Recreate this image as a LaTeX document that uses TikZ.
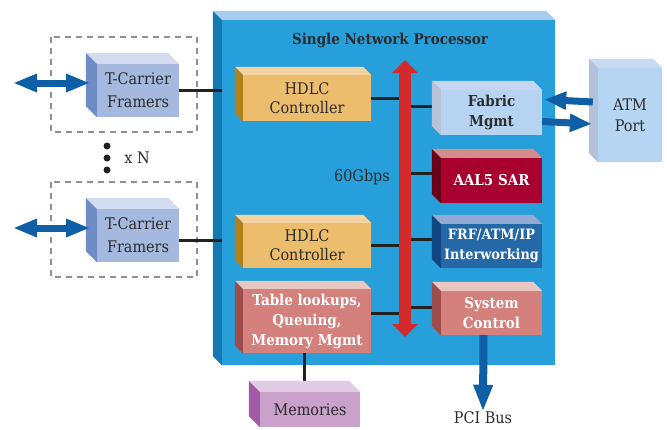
\documentclass[tikz,border=0pt]{standalone}
\usepackage{fontspec}
\setmainfont{DejaVu Serif Condensed}
\usetikzlibrary{arrows.meta}

\definecolor{npfront}{HTML}{279FDA}
\definecolor{nptop}{HTML}{A9CDEE}
\definecolor{npside}{HTML}{1479B0}
\definecolor{hdlcfront}{HTML}{EDBD6E}
\definecolor{hdlctop}{HTML}{F3D3A0}
\definecolor{hdlcside}{HTML}{B0801C}
\definecolor{rosefront}{HTML}{D4807C}
\definecolor{rosetop}{HTML}{E9C6C0}
\definecolor{roseside}{HTML}{9E4C4A}
\definecolor{fabfront}{HTML}{B6D4F2}
\definecolor{fabtop}{HTML}{C4D6F2}
\definecolor{fabside}{HTML}{B7C2D6}
\definecolor{sarfront}{HTML}{A8002F}
\definecolor{sartop}{HTML}{D48C8C}
\definecolor{sarside}{HTML}{6A0018}
\definecolor{frffront}{HTML}{2468A8}
\definecolor{frftop}{HTML}{93AAD2}
\definecolor{frfside}{HTML}{0D4680}
\definecolor{frmfront}{HTML}{A5B9DF}
\definecolor{frmtop}{HTML}{D3DCEE}
\definecolor{frmside}{HTML}{6E8CC6}
\definecolor{memfront}{HTML}{C9A1CB}
\definecolor{memtop}{HTML}{E2CCE5}
\definecolor{memside}{HTML}{A25AA6}
\definecolor{atmfront}{HTML}{B5D5F2}
\definecolor{atmtop}{HTML}{C8DAF2}
\definecolor{atmside}{HTML}{B3C1D9}
\definecolor{busred}{HTML}{D32A2C}
\definecolor{arrowblue}{HTML}{0E5FA6}
\definecolor{dashgray}{HTML}{8C9099}
\definecolor{txtdark}{HTML}{2B2B2B}
\definecolor{linkblack}{HTML}{222222}

% top and side faces of a box node: [depth]{node}{top colour}{side colour}
\newcommand{\faces}[4][9]{%
  \fill[#3] (#2.north west) -- ++(-#1,-#1) -- ([shift={(-#1,-#1)}]#2.north east) -- (#2.north east) -- cycle;
  \fill[#4] (#2.north west) -- ++(-#1,-#1) -- ([shift={(-#1,-#1)}]#2.south west) -- (#2.south west) -- cycle;
}

\tikzset{
  blk/.style={inner sep=0pt, align=center, text=txtdark,
    font=\fontsize{16}{19}\selectfont},
  bblk/.style={blk, font=\fontsize{15}{20}\selectfont\bfseries},
  wblk/.style={bblk, text=white},
  lbl/.style={inner sep=0pt, text=txtdark, font=\fontsize{16}{18}\selectfont},
  link/.style={line width=3pt, draw=linkblack},
  dashbox/.style={draw=dashgray, line width=1.5pt, dash pattern=on 6pt off 5pt},
  dblarrow/.style={line width=7pt, draw=arrowblue,
    {Triangle[width=17pt,length=24pt]}-{Triangle[width=17pt,length=24pt]}},
  onearrow/.style={line width=7pt, draw=arrowblue, -{Triangle[width=17pt,length=22pt]}},
}

\begin{document}
\begin{tikzpicture}[x=1pt, y=-1pt]
  \useasboundingbox (0,0) rectangle (667,429);

  % network processor
  \node[blk, fill=npfront, minimum width=333pt, minimum height=345pt] (np) at (388.5,192.5) {};
  \faces{np}{nptop}{npside}
  \node[bblk] (title) at (390,40) {Single Network Processor};

  % framers
  \draw[dashbox] (51,37) rectangle (197,132);
  \draw[dashbox] (51,182) rectangle (197,277);
  \node[blk, fill=frmfront, minimum width=82pt, minimum height=53pt,
    font=\fontsize{16}{23}\selectfont] (fr1) at (138,90.5) {T-Carrier\\Framers};
  \faces[11]{fr1}{frmtop}{frmside}
  \node[blk, fill=frmfront, minimum width=82pt, minimum height=53pt,
    font=\fontsize{16}{23}\selectfont] (fr2) at (138,235.5) {T-Carrier\\Framers};
  \faces[11]{fr2}{frmtop}{frmside}
  \foreach \y in {146,158,170}
    \fill[linkblack] (107,\y) circle (3.5);
  \node[lbl] (xn) at (137,158) {x N};

  % links
  \draw[link] (fr1.east) -- (fr1.east -| np.west);
  \draw[link] ([yshift=-5pt]fr2.east) -- ([yshift=-5pt]fr2.east -| np.west);
  \coordinate (bustop) at (405,60);
  \coordinate (busbot) at (405,337);

  % blocks
  \node[blk, fill=hdlcfront, minimum width=128pt, minimum height=46pt] (hdlc1) at (307,98) {HDLC\\Controller};
  \node[blk, fill=hdlcfront, minimum width=128pt, minimum height=45pt] (hdlc2) at (307,245.5) {HDLC\\Controller};
  \node[wblk, fill=rosefront, minimum width=128pt, minimum height=64pt] (tab) at (307,321) {Table lookups,\\Queuing,\\Memory Mgmt};
  \node[bblk, fill=fabfront, minimum width=101pt, minimum height=45pt] (fab) at (491.5,112.5) {Fabric\\Mgmt};
  \node[wblk, fill=sarfront, minimum width=101pt, minimum height=45pt] (sar) at (491.5,180.5) {AAL5 SAR};
  \node[wblk, fill=frffront, minimum width=101pt, minimum height=44pt,
    font=\fontsize{14.3}{20}\selectfont\bfseries] (frf) at (491.5,246) {FRF/ATM/IP\\Interworking};
  \node[wblk, fill=rosefront, minimum width=101pt, minimum height=44pt] (sys) at (491.5,313) {System\\Control};
  \node[blk, fill=memfront, minimum width=100pt, minimum height=35pt] (mem) at (310,409.5) {Memories};
  \node[blk, fill=atmfront, minimum width=64pt, minimum height=94pt, font=\fontsize{16}{21}\selectfont] (atm) at (630,115) {ATM\\Port};

  \draw[link] (hdlc1.east) -- (hdlc1.east -| bustop);
  \draw[link] ([yshift=6pt]fab.west) -- ([yshift=6pt]fab.west -| bustop);
  \draw[link] ([yshift=7pt]sar.west) -- ([yshift=7pt]sar.west -| bustop);
  \draw[link] (hdlc2.east) -- (hdlc2.east -| bustop);
  \draw[link] ([yshift=7pt]frf.west) -- ([yshift=7pt]frf.west -| bustop);
  \draw[link] ([yshift=8pt]tab.east) -- ([yshift=8pt]tab.east -| bustop);
  \draw[link] ([yshift=6pt]sys.west) -- ([yshift=6pt]sys.west -| bustop);
  \draw[link] ([xshift=-3pt]tab.south) -- ([xshift=-3pt]tab.south |- mem.north);

  \faces[8]{hdlc1}{hdlctop}{hdlcside}
  \faces[8]{hdlc2}{hdlctop}{hdlcside}
  \faces[8]{tab}{rosetop}{roseside}
  \faces{fab}{fabtop}{fabside}
  \faces{sar}{sartop}{sarside}
  \faces{frf}{frftop}{frfside}
  \faces{sys}{rosetop}{roseside}
  \faces[11]{mem}{memtop}{memside}
  \faces{atm}{atmtop}{atmside}

  % 60Gbps bus
  \draw[line width=12pt, draw=busred,
    {Triangle[width=25pt,length=13pt]}-{Triangle[width=25pt,length=13pt]}] (bustop) -- (busbot);
  \node[lbl] (gbps) at (362,177) {60Gbps};

  % outside arrows
  \coordinate (line1) at (13,83);
  \coordinate (line2) at (13,228);
  \draw[dblarrow] (line1) -- (line1 -| 90,0);
  \draw[dblarrow] (line2) -- (line2 -| 90,0);
  \draw[onearrow] ([shift={(-5,-13)}]atm.west) -- ([shift={(2,-13)}]fab.east);
  \draw[onearrow] ([yshift=-9pt]fab.east) -- ([shift={(-6,9)}]atm.west);
  \node[lbl] (pci) at (483,418) {PCI Bus};
  \draw[line width=8pt, draw=arrowblue, -{Triangle[width=18pt,length=27pt]}]
    ([xshift=-8pt]sys.south) -- (pci.north);
\end{tikzpicture}
\end{document}
